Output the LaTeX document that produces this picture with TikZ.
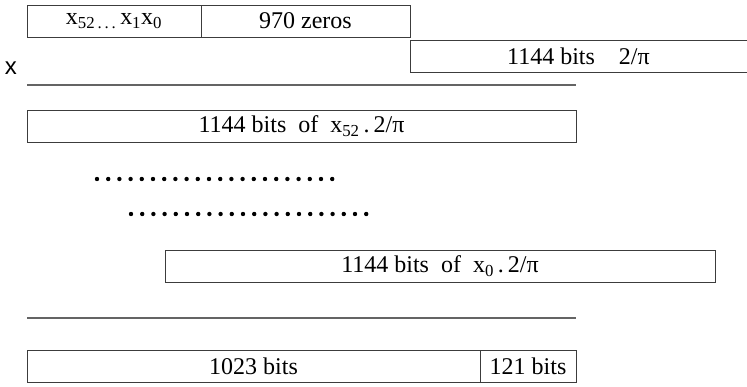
\documentclass[tikz,border=0pt]{standalone}
\usepackage{fontspec}
\setmainfont{Liberation Serif}
\setsansfont{Liberation Sans}
\usepackage{tikz}
\usetikzlibrary{positioning}
\definecolor{BoxLine}{RGB}{60,60,60}
\definecolor{RuleGray}{RGB}{100,100,100}

\begin{document}
\begin{tikzpicture}[x=1pt,y=-1pt,
    field/.style={draw=BoxLine,line width=0.9pt,anchor=north west,
                  inner sep=0pt,outer sep=0pt,minimum height=32pt,
                  font=\fontsize{24}{26}\selectfont},
    rule/.style={RuleGray,line width=1.1pt},
    dotrow/.style={line width=4.4pt,line cap=round,dash pattern=on 0pt off 11.2pt}]
  \useasboundingbox (0,0) rectangle (747,387);

  % operand x, padded with zeros
  \node[field,minimum width=174pt] (xbits) at (27,5)
       {x\textsubscript{52\,.\,.\,.}\,x\textsubscript{1}x\textsubscript{0}};
  \node[field,minimum width=209pt] (zeros) at (201,5) {970 zeros};
  \node[field,minimum width=337pt] (twopi) at (410,40) {1144 bits\quad 2/π};
  \node[font=\sffamily\fontsize{24}{26}\selectfont] (times) at (11,68) {x};

  \coordinate (r1a) at (27,85);
  \coordinate (r1b) at (576,85);
  \draw[rule] (r1a) -- (r1b);

  % partial products
  \node[field,minimum width=549pt] (p52) at (27,110)
       {1144 bits\ \ of\ \ x\textsubscript{52}\,.\,2/π};
  \coordinate (d1a) at (97,179);
  \coordinate (d1b) at (333,179);
  \coordinate (d2a) at (131,214);
  \coordinate (d2b) at (368,214);
  \draw[dotrow] (d1a) -- (d1b);
  \draw[dotrow] (d2a) -- (d2b);
  \node[field,minimum width=550pt] (p0) at (165,250)
       {1144 bits\ \ of\ \ x\textsubscript{0}\,.\,2/π};

  \coordinate (r2a) at (27,318);
  \coordinate (r2b) at (576,318);
  \draw[rule] (r2a) -- (r2b);

  % result
  \node[field,minimum width=453pt] (hi) at (27,350) {1023 bits};
  \node[field,minimum width=96pt] (lo) at (480,350) {121 bits};
\end{tikzpicture}
\end{document}
